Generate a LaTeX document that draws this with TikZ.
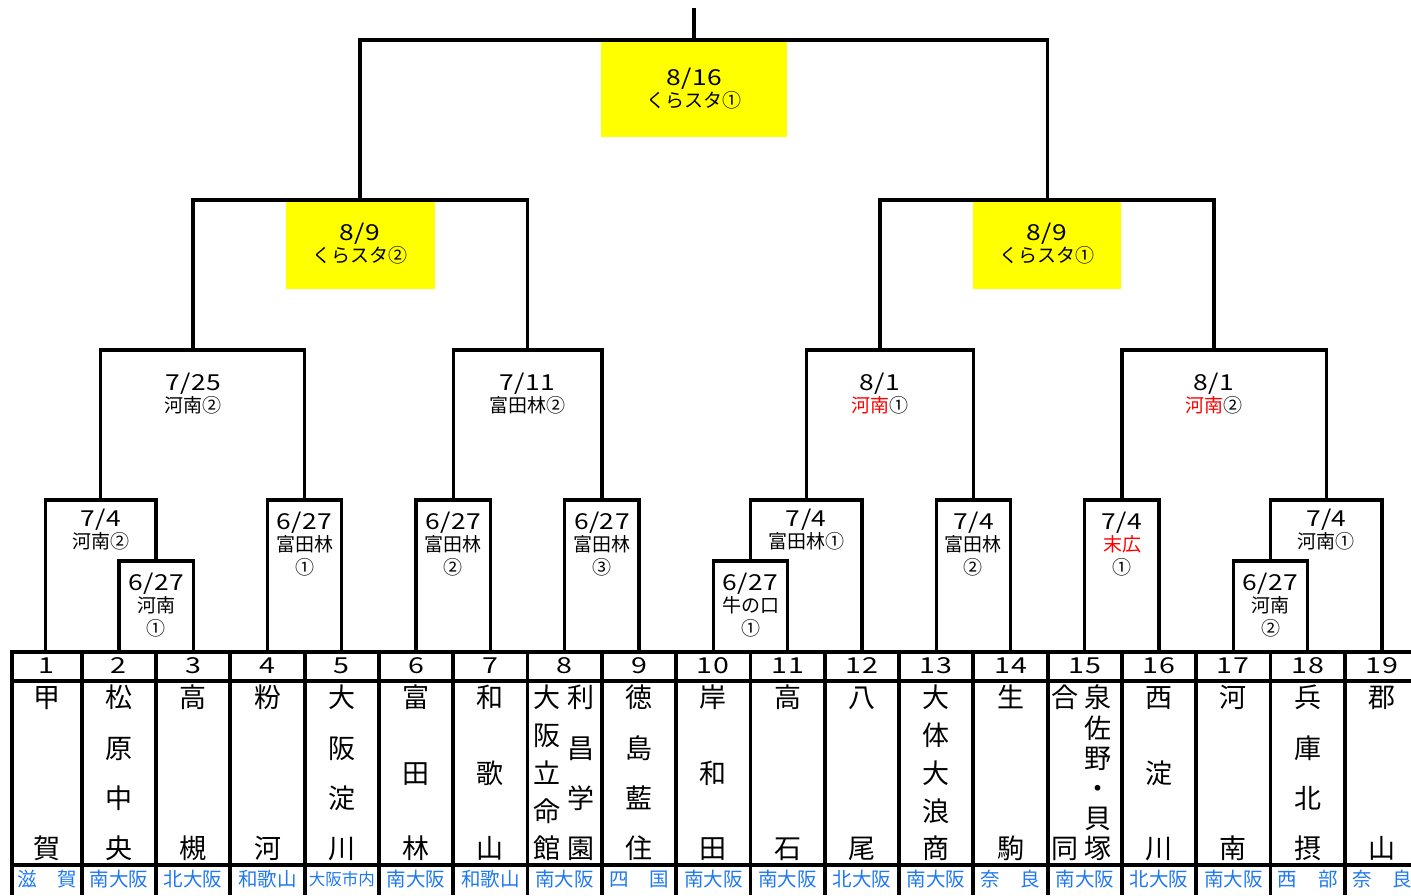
\documentclass[tikz,border=0pt]{standalone}
\usepackage{fontspec}
\setmainfont{Noto Sans CJK JP}
\newfontfamily\datefont[FakeStretch=1.2,LetterSpace=2]{Noto Sans CJK JP}
\newfontfamily\numfont[FakeStretch=1.3,LetterSpace=5]{Noto Sans CJK JP}
\definecolor{locblue}{RGB}{30,120,240}
\definecolor{boxyellow}{RGB}{255,255,0}
\definecolor{winred}{RGB}{255,0,0}
\newcommand\labtwo[5]{\node[dt] (#1d) at (#2,#3+8.4) {#4};\node[jt] (#1t) at (#2,#3+30.2) {#5};}
\newcommand\labthree[6]{\labtwo{#1}{#2}{#3}{#4}{#5}\node[jt] (#1c) at (#2,#3+53.2) {#6};}
\newcommand\vname[4]{\foreach \ch [count=\k] in {#4} {\pgfmathsetmacro\yy{697.5+(\k-1)*151/(#3-1)+10.3}\node[nm] (#1-\k) at (#2,\yy) {\ch};}}
\newcommand\locn[3]{\node[lc] (#1) at (#2,886.4) {#3};}
\newcommand\locs[4]{\node[lc] (#1) at (#2,886.4) {\makebox[60pt]{#3\hfill#4}};}
\begin{document}
\begin{tikzpicture}[x=1pt,y=-1pt,
  br/.style={line width=3.3pt,line cap=rect,line join=miter},
  tb/.style={line width=3.8pt},
  dt/.style={anchor=base,inner sep=0pt,font=\datefont\fontsize{22}{22}\selectfont},
  jt/.style={anchor=base,inner sep=0pt,font=\fontsize{19}{19}\selectfont},
  nm/.style={anchor=base,inner sep=0pt,font=\fontsize{27}{27}\selectfont},
  num/.style={anchor=base,inner sep=0pt,font=\numfont\fontsize{22}{22}\selectfont},
  lc/.style={anchor=base,inner sep=0pt,text=locblue,font=\fontsize{19.5}{19.5}\selectfont}]
\useasboundingbox (0,0) rectangle (1411,895);
% yellow venues
\fill[boxyellow] (601,42) rectangle (787,137);
\fill[boxyellow] (286,201.5) rectangle (435,289);
\fill[boxyellow] (973,201.5) rectangle (1121,289);
% leaves
\foreach \i/\x in {1/45.5,2/118.9,3/193.2,4/267.5,5/341.8,6/416.1,7/490.4,8/564.7,9/639.0,10/713.3,11/787.6,12/861.9,13/936.2,14/1010.5,15/1084.8,16/1159.1,17/1233.4,18/1307.7,19/1382.0}
  \coordinate (L\i) at (\x,651.7);
% matches
\coordinate (M1) at (156,561);
\coordinate (M2) at (750.5,561);
\coordinate (M3) at (1270.6,561);
\coordinate (A1) at (100.8,500);
\coordinate (A2) at (304.6,500);
\coordinate (A3) at (453.2,500);
\coordinate (A4) at (601.9,500);
\coordinate (A5) at (806.2,500);
\coordinate (A6) at (973.4,500);
\coordinate (A7) at (1122,500);
\coordinate (A8) at (1326.3,500);
\coordinate (Q1) at (193,350);
\coordinate (Q2) at (527.5,350);
\coordinate (Q3) at (880,350);
\coordinate (Q4) at (1214,350);
\coordinate (S1) at (360,200);
\coordinate (S2) at (1047.5,200);
\coordinate (F) at (694,40);
\coordinate (Top) at (694,10);
% bracket lines
\draw[br] (L2) |- (M1) -| (L3);
\draw[br] (L10) |- (M2) -| (L11);
\draw[br] (L17) |- (M3) -| (L18);
\draw[br] (L1) |- (A1) -| (M1);
\draw[br] (L4) |- (A2) -| (L5);
\draw[br] (L6) |- (A3) -| (L7);
\draw[br] (L8) |- (A4) -| (L9);
\draw[br] (M2) |- (A5) -| (L12);
\draw[br] (L13) |- (A6) -| (L14);
\draw[br] (L15) |- (A7) -| (L16);
\draw[br] (M3) |- (A8) -| (L19);
\draw[br] (A1) |- (Q1) -| (A2);
\draw[br] (A3) |- (Q2) -| (A4);
\draw[br] (A5) |- (Q3) -| (A6);
\draw[br] (A7) |- (Q4) -| (A8);
\draw[br] (Q1) |- (S1) -| (Q2);
\draw[br] (Q3) |- (S2) -| (Q4);
\draw[br] (S1) |- (F) -| (S2);
\draw[br] (F) -- (Top);
% labels
\labtwo{f}{694}{77}{8/16}{くらスタ①}
\labtwo{s1}{360}{232}{8/9}{くらスタ②}
\labtwo{s2}{1047}{232}{8/9}{くらスタ①}
\labtwo{q1}{193}{382}{7/25}{河南②}
\labtwo{q2}{527}{382}{7/11}{富田林②}
\labtwo{q3}{880}{382}{8/1}{\textcolor{winred}{河南}①}
\labtwo{q4}{1214}{382}{8/1}{\textcolor{winred}{河南}②}
\labtwo{a1}{100.8}{518}{7/4}{河南②}
\labthree{a2}{304.6}{521}{6/27}{富田林}{①}
\labthree{a3}{453.2}{521}{6/27}{富田林}{②}
\labthree{a4}{601.9}{521}{6/27}{富田林}{③}
\labtwo{a5}{806.2}{518}{7/4}{富田林①}
\labthree{a6}{973.4}{521}{7/4}{富田林}{②}
\labthree{a7}{1122}{521}{7/4}{\textcolor{winred}{末広}}{①}
\labtwo{a8}{1326.3}{518}{7/4}{河南①}
\labthree{m1}{156}{582}{6/27}{河南}{①}
\labthree{m2}{750.5}{582}{6/27}{牛の口}{①}
\labthree{m3}{1270.6}{582}{6/27}{河南}{②}
% table
\draw[tb] (11.7,651.7) -- (1411,651.7);
\draw[tb] (11.7,681) -- (1411,681);
\draw[tb] (11.7,865) -- (1411,865);
\draw[tb] (11.7,650) -- (11.7,895);
\foreach \k in {0,...,17} \draw[tb] ({81.7+74.3*\k},650) -- ({81.7+74.3*\k},895);
% numbers
\foreach \i/\x in {1/46.7,2/118.9,3/193.2,4/267.5,5/341.8,6/416.1,7/490.4,8/564.7,9/639.0,10/713.3,11/787.6,12/861.9,13/936.2,14/1010.5,15/1084.8,16/1159.1,17/1233.4,18/1307.7,19/1382.0}
  \node[num] (n\i) at (\x,673) {\i};
% names
\vname{t1}{46.7}{2}{甲,賀}
\vname{t2}{118.9}{4}{松,原,中,央}
\vname{t3}{193.2}{2}{高,槻}
\vname{t4}{267.5}{2}{粉,河}
\vname{t5}{341.8}{4}{大,阪,淀,川}
\vname{t6}{416.1}{3}{富,田,林}
\vname{t7}{490.4}{3}{和,歌,山}
\vname{t8a}{547}{5}{大,阪,立,命,館}
\vname{t8b}{581}{4}{利,昌,学,園}
\vname{t9}{639.0}{4}{徳,島,藍,住}
\vname{t10}{713.3}{3}{岸,和,田}
\vname{t11}{787.6}{2}{高,石}
\vname{t12}{861.9}{2}{八,尾}
\vname{t13}{936.2}{5}{大,体,大,浪,商}
\vname{t14}{1010.5}{2}{生,駒}
\vname{t15a}{1065}{2}{合,同}
\vname{t15b}{1098}{6}{泉,佐,野,・,貝,塚}
\vname{t16}{1159.1}{3}{西,淀,川}
\vname{t17}{1233.4}{2}{河,南}
\vname{t18}{1307.7}{4}{兵,庫,北,摂}
\vname{t19}{1382.0}{2}{郡,山}
% locations
\locs{p1}{47.5}{滋}{賀}
\locn{p2}{118.9}{南大阪}
\locn{p3}{193.2}{北大阪}
\locn{p4}{267.5}{和歌山}
\node[lc,font=\fontsize{16.5}{16.5}\selectfont] (p5) at (341.8,885) {大阪市内};
\locn{p6}{416.1}{南大阪}
\locn{p7}{490.4}{和歌山}
\locn{p8}{564.7}{南大阪}
\locs{p9}{639.0}{四}{国}
\locn{p10}{713.3}{南大阪}
\locn{p11}{787.6}{南大阪}
\locn{p12}{861.9}{北大阪}
\locn{p13}{936.2}{南大阪}
\locs{p14}{1010.5}{奈}{良}
\locn{p15}{1084.8}{南大阪}
\locn{p16}{1159.1}{北大阪}
\locn{p17}{1233.4}{南大阪}
\locs{p18}{1307.7}{西}{部}
\locs{p19}{1382.0}{奈}{良}
\end{tikzpicture}
\end{document}
